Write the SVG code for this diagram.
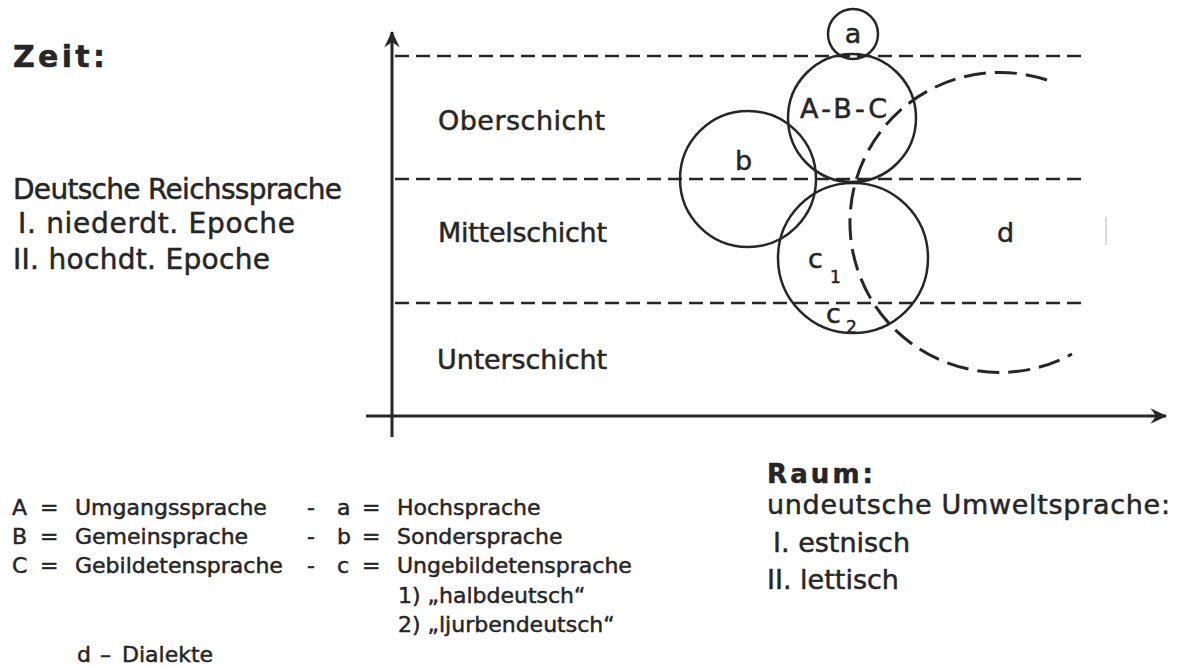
<svg xmlns="http://www.w3.org/2000/svg" width="1177" height="668" viewBox="0 0 1177 668">
<defs>
<style>
.t{font-family:"DejaVu Sans",sans-serif;fill:#262626;stroke:#262626;stroke-width:0.5}
.b{font-weight:bold}
.l27{font-size:27px}
.lg{font-size:22px}
.dash{stroke:#262626;stroke-width:2.5;stroke-dasharray:14 7;fill:none}
.circ{stroke:#262626;stroke-width:2.5;fill:none}
.axis{stroke:#262626;stroke-width:3;fill:none}
</style>
<marker id="arr" markerWidth="20" markerHeight="20" refX="0" refY="0" viewBox="-16 -9 18 18" orient="auto" markerUnits="userSpaceOnUse">
<path d="M1,0 L-14,-7 L-9,0 L-14,7 Z" fill="#262626"/>
</marker>
</defs>
<rect width="1177" height="668" fill="#ffffff"/>

<g id="axes">
<line class="axis" x1="392" y1="437" x2="392" y2="32" marker-end="url(#arr)"/>
<line class="axis" x1="366" y1="416" x2="1166" y2="416" marker-end="url(#arr)"/>
</g>

<g id="strata-lines">
<line class="dash" x1="395" y1="56" x2="1088" y2="56"/>
<line class="dash" x1="395" y1="179" x2="1088" y2="179"/>
<line class="dash" x1="395" y1="303" x2="1088" y2="303"/>
</g>

<g id="labels-left">
<text class="t b" x="13" y="67" font-size="30" textLength="92" lengthAdjust="spacing">Zeit:</text>
<text class="t" x="13" y="199" font-size="28" textLength="329" lengthAdjust="spacing">Deutsche Reichssprache</text>
<text class="t" x="18" y="233" font-size="28" textLength="277" lengthAdjust="spacing">I. niederdt. Epoche</text>
<text class="t" x="13" y="269" font-size="28" textLength="257" lengthAdjust="spacing">II. hochdt. Epoche</text>
</g>

<g id="strata-labels">
<text class="t l27" x="438" y="130" textLength="167" lengthAdjust="spacing">Oberschicht</text>
<text class="t l27" x="438" y="242" textLength="169" lengthAdjust="spacing">Mittelschicht</text>
<text class="t l27" x="437" y="369" textLength="170" lengthAdjust="spacing">Unterschicht</text>
</g>

<g id="node-a">
<circle class="circ" cx="853" cy="34" r="25"/>
<text class="t l27" x="853" y="43" text-anchor="middle">a</text>
</g>

<g id="node-abc">
<circle class="circ" cx="852" cy="118" r="64" stroke-width="4"/>
<text class="t l27" x="800" y="118" textLength="87" lengthAdjust="spacing">A-B-C</text>
</g>

<g id="node-b">
<circle class="circ" cx="748" cy="179" r="68"/>
<text class="t l27" x="735" y="170">b</text>
</g>

<g id="node-c">
<circle class="circ" cx="853" cy="258" r="75"/>
<text class="t l27" x="808" y="268">c</text>
<text class="t" x="830" y="283" font-size="17">1</text>
<text class="t l27" x="826" y="323">c</text>
<text class="t" x="846" y="333" font-size="17">2</text>
</g>

<g id="node-d">
<path d="M1047 80 A150 150 0 1 0 1072 354" fill="none" stroke="#262626" stroke-width="3" stroke-dasharray="22 9"/>
<text class="t l27" x="997" y="242">d</text>
</g>

<line x1="1106" y1="217" x2="1106" y2="245" stroke="#cfcfcf" stroke-width="1.5"/>

<g id="legend">
<text class="t lg" x="12" y="515">A</text>
<text class="t lg" x="40" y="515">=</text>
<text class="t lg" x="75" y="515">Umgangssprache</text>
<text class="t lg" x="307" y="515">-</text>
<text class="t lg" x="337" y="515">a</text>
<text class="t lg" x="362" y="515">=</text>
<text class="t lg" x="397" y="515">Hochsprache</text>

<text class="t lg" x="12" y="544">B</text>
<text class="t lg" x="40" y="544">=</text>
<text class="t lg" x="75" y="544">Gemeinsprache</text>
<text class="t lg" x="307" y="544">-</text>
<text class="t lg" x="337" y="544">b</text>
<text class="t lg" x="362" y="544">=</text>
<text class="t lg" x="397" y="544">Sondersprache</text>

<text class="t lg" x="12" y="573">C</text>
<text class="t lg" x="40" y="573">=</text>
<text class="t lg" x="75" y="573">Gebildetensprache</text>
<text class="t lg" x="307" y="573">-</text>
<text class="t lg" x="337" y="573">c</text>
<text class="t lg" x="362" y="573">=</text>
<text class="t lg" x="397" y="573">Ungebildetensprache</text>

<text class="t lg" x="398" y="603">1) „halbdeutsch“</text>
<text class="t lg" x="398" y="632">2) „ljurbendeutsch“</text>

<text class="t lg" x="77" y="662">d</text>
<text class="t lg" x="100" y="662">–</text>
<text class="t lg" x="122" y="662">Dialekte</text>
</g>

<g id="labels-right">
<text class="t b" x="767" y="483" font-size="26" textLength="106" lengthAdjust="spacing">Raum:</text>
<text class="t" x="767" y="514" font-size="27" textLength="403" lengthAdjust="spacing">undeutsche Umweltsprache:</text>
<text class="t" x="773" y="552" font-size="27">I. estnisch</text>
<text class="t" x="767" y="589" font-size="27">II. lettisch</text>
</g>
</svg>
